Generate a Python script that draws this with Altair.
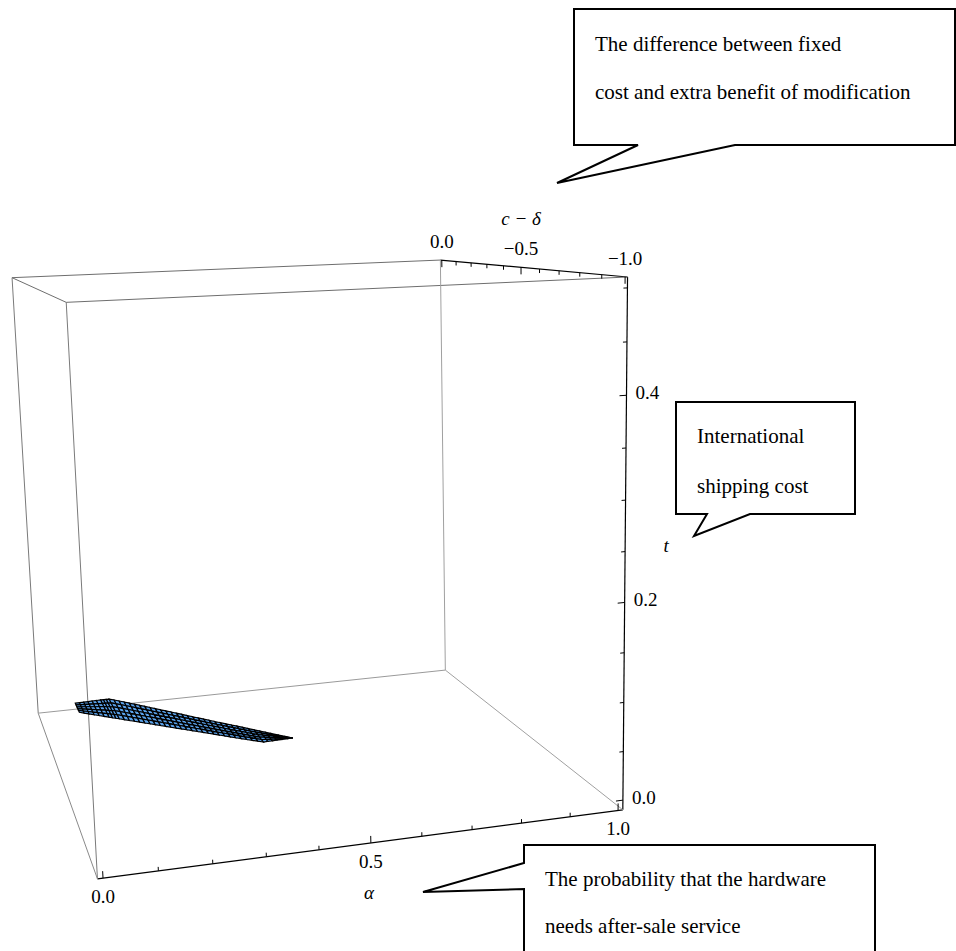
import numpy as np
import pandas as pd
import altair as alt

W, H = 956, 951
SERIF = "Liberation Serif"

# Plot box extents in data units (range plus a little padding)
ALPHA_RANGE = (-0.01, 1.01)
CD_RANGE = (0.01, -1.01)
T_RANGE = (-0.01, 0.51)

# Tick values
alpha_ticks = [0.0, 0.1, 0.2, 0.3, 0.4, 0.5, 0.6, 0.7, 0.8, 0.9, 1.0]
alpha_major = {0.0: "0.0", 0.5: "0.5", 1.0: "1.0"}
t_ticks = [0.0, 0.05, 0.1, 0.15, 0.2, 0.25, 0.3, 0.35, 0.4, 0.45, 0.5]
t_major = {0.0: "0.0", 0.2: "0.2", 0.4: "0.4"}
cd_ticks = [0.0, -0.1, -0.2, -0.3, -0.4, -0.5, -0.6, -0.7, -0.8, -0.9, -1.0]
cd_major = {0.0: "0.0", -0.5: "\u22120.5", -1.0: "\u22121.0"}

# Feasible strip of the surface: rows of alpha with the c-delta bounds and the height t
surf_alpha = [0.07, 0.10, 0.13, 0.15, 0.18, 0.21, 0.24, 0.27, 0.30, 0.33, 0.36, 0.39, 0.42, 0.45, 0.486]
surf_cd_hi = [-0.069, -0.067, -0.065, -0.065, -0.100, -0.138, -0.176, -0.214, -0.253,
              -0.291, -0.329, -0.366, -0.404, -0.442, -0.487]
surf_cd_lo = [-0.143, -0.173, -0.203, -0.223, -0.253, -0.283, -0.313, -0.343, -0.373,
              -0.403, -0.433, -0.463, -0.491, -0.489, -0.487]
surf_t = [0.010, 0.010, 0.010, 0.010, 0.010, 0.010, 0.010, 0.010, 0.010,
          0.010, 0.010, 0.010, 0.010, 0.010, 0.010]

# Perspective camera (3x4 homogeneous matrix: data -> page pixels)
CAMERA = np.array([
    [428.3335, -34.59365, -51.57386, 42.42838],
    [-0.06537668, 50.27041, -865.8759, 705.9471],
    [0.06308993, 0.2425692, -0.09404379, 1.0],
])


def proj(a, c, t):
    v = CAMERA @ np.array([a, c, t, 1.0])
    return float(v[0] / v[2]), float(v[1] / v[2])


def corner(iu, iv, iw):
    return (ALPHA_RANGE[iu], CD_RANGE[iv], T_RANGE[iw])


# ---- box edges (axis edges black, the rest gray) ----
edges = [
    ((0, 1, 0), (1, 1, 0), "black", 1.2),
    ((1, 1, 0), (1, 1, 1), "black", 1.2),
    ((1, 0, 1), (1, 1, 1), "black", 1.2),
    ((0, 1, 0), (0, 1, 1), "#7a7a7a", 1.0),
    ((0, 1, 1), (1, 1, 1), "#6e6e6e", 1.0),
    ((0, 0, 1), (0, 1, 1), "#6e6e6e", 1.0),
    ((0, 0, 1), (1, 0, 1), "#6e6e6e", 1.0),
    ((0, 0, 1), (0, 0, 0), "#7a7a7a", 1.0),
    ((0, 0, 0), (0, 1, 0), "#8a8a8a", 1.0),
    ((0, 0, 0), (1, 0, 0), "#9a9a9a", 1.0),
    ((1, 0, 0), (1, 0, 1), "#a0a0a0", 1.0),
    ((1, 0, 0), (1, 1, 0), "#a0a0a0", 1.0),
]
seg = []
for p0, p1, col, sw in edges:
    x0, y0 = proj(*corner(*p0))
    x1, y1 = proj(*corner(*p1))
    seg.append(dict(x=x0, y=y0, x2=x1, y2=y1, col=col, sw=sw))


def tick_seg(base, delta, length):
    x0, y0 = proj(*base)
    x1, y1 = proj(*(np.array(base) + np.array(delta)))
    d = np.array([x1 - x0, y1 - y0])
    d = d / np.linalg.norm(d) * length
    return dict(x=x0, y=y0, x2=x0 + d[0], y2=y0 + d[1], col="black", sw=1.0)


labels = []
for a in alpha_ticks:
    base = (a, CD_RANGE[1], T_RANGE[0])
    seg.append(tick_seg(base, (0, 0, 0.01), 7 if a in alpha_major else 4))
    if a in alpha_major:
        x0, y0 = proj(*base)
        labels.append(dict(x=x0, y=y0 + 19, txt=alpha_major[a], al="center"))
for t in t_ticks:
    base = (ALPHA_RANGE[1], CD_RANGE[1], t)
    seg.append(tick_seg(base, (-0.01, 0, 0), 7 if t in t_major else 4))
    if t in t_major:
        x0, y0 = proj(*base)
        labels.append(dict(x=x0 + 9, y=y0 - 2, txt=t_major[t], al="left"))
for c in cd_ticks:
    base = (ALPHA_RANGE[1], c, T_RANGE[1])
    seg.append(tick_seg(base, (0, 0, -0.01), 7 if c in cd_major else 4))
    if c in cd_major:
        x0, y0 = proj(*base)
        labels.append(dict(x=x0, y=y0 - 18, txt=cd_major[c], al="center"))

seg_df = pd.DataFrame(seg)
lab_df = pd.DataFrame(labels)

# axis titles
ax_a = proj(0.5, CD_RANGE[1], T_RANGE[0])
ax_t = proj(ALPHA_RANGE[1], CD_RANGE[1], 0.255)
ax_c = proj(ALPHA_RANGE[1], -0.5, T_RANGE[1])
titles = pd.DataFrame([
    dict(x=ax_a[0] - 2, y=ax_a[1] + 50, txt="\u03b1"),
    dict(x=ax_t[0] + 41, y=ax_t[1], txt="t"),
    dict(x=ax_c[0], y=ax_c[1] - 48, txt="c \u2212 \u03b4"),
])

# ---- surface cells: each sampled band is split by mesh lines in both directions ----
NSUB = 5   # mesh divisions across the strip
NSTEP = 3  # mesh divisions between two sampled alpha rows


def strip_point(i, s, j):
    """Point at fraction s between rows i and i+1, mesh column j."""
    a = surf_alpha[i] + (surf_alpha[i + 1] - surf_alpha[i]) * s
    hi = surf_cd_hi[i] + (surf_cd_hi[i + 1] - surf_cd_hi[i]) * s
    lo = surf_cd_lo[i] + (surf_cd_lo[i + 1] - surf_cd_lo[i]) * s
    t = surf_t[i] + (surf_t[i + 1] - surf_t[i]) * s
    return proj(a, hi + (lo - hi) * j / NSUB, t)


cells = []
cid = 0
for i in range(len(surf_alpha) - 1):
    for m in range(NSTEP):
        s0, s1 = m / NSTEP, (m + 1) / NSTEP
        for j in range(NSUB):
            quad = [strip_point(i, s0, j), strip_point(i, s1, j),
                    strip_point(i, s1, j + 1), strip_point(i, s0, j + 1)]
            for k, (x, y) in enumerate(quad):
                cells.append(dict(cell=cid, k=k, x=x, y=y))
            cid += 1
cell_df = pd.DataFrame(cells)

# ---- callout bubbles (page layout, pixels) ----
callouts = {
    "top": [(574, 9), (955, 9), (955, 145), (735, 145), (557, 183), (638, 145), (574, 145)],
    "mid": [(676, 402), (855, 402), (855, 514), (750, 514), (694, 536), (707, 514), (676, 514)],
    "bot": [(524, 845), (875, 845), (875, 965), (524, 965), (524, 889), (423, 892), (524, 863)],
}
co_rows = []
for name, pts in callouts.items():
    for k, (x, y) in enumerate(pts):
        co_rows.append(dict(name=name, k=k, x=x, y=y))
co_df = pd.DataFrame(co_rows)
co_text = pd.DataFrame([
    dict(x=595, y=45, txt="The difference between fixed"),
    dict(x=595, y=93, txt="cost and extra benefit of modification"),
    dict(x=697, y=437, txt="International"),
    dict(x=697, y=487, txt="shipping cost"),
    dict(x=545, y=880, txt="The probability that the hardware"),
    dict(x=545, y=927, txt="needs after-sale service"),
])

X = alt.X("x:Q", scale=alt.Scale(domain=[0, W], nice=False, zero=False), axis=None)
Y = alt.Y("y:Q", scale=alt.Scale(domain=[0, H], nice=False, zero=False, reverse=True), axis=None)

box = alt.Chart(seg_df).mark_rule().encode(
    x=X, y=Y, x2="x2:Q", y2="y2:Q",
    color=alt.Color("col:N", scale=None),
    strokeWidth=alt.StrokeWidth("sw:Q", scale=None),
)
surface = alt.Chart(cell_df).mark_line(
    fill="#5BA3EC", stroke="black", strokeWidth=1.2, interpolate="linear-closed"
).encode(x=X, y=Y, detail="cell:N", order="k:Q")
tick_text_c = alt.Chart(lab_df[lab_df.al == "center"]).mark_text(
    font=SERIF, fontSize=19, baseline="middle", align="center").encode(x=X, y=Y, text="txt:N")
tick_text_l = alt.Chart(lab_df[lab_df.al == "left"]).mark_text(
    font=SERIF, fontSize=19, baseline="middle", align="left").encode(x=X, y=Y, text="txt:N")
title_text = alt.Chart(titles).mark_text(
    font=SERIF, fontSize=19, fontStyle="italic", baseline="middle", align="center"
).encode(x=X, y=Y, text="txt:N")
bubbles = alt.Chart(co_df).mark_line(
    fill="white", stroke="black", strokeWidth=2, interpolate="linear-closed"
).encode(x=X, y=Y, detail="name:N", order="k:Q")
bubble_text = alt.Chart(co_text).mark_text(
    font=SERIF, fontSize=21, baseline="middle", align="left"
).encode(x=X, y=Y, text="txt:N")

chart = alt.layer(
    box, surface, tick_text_c, tick_text_l, title_text, bubbles, bubble_text
).properties(width=W, height=H, padding=0, autosize="none").configure_view(stroke=None)

chart.save("out.html", embed_options={"renderer": "svg", "actions": False})
